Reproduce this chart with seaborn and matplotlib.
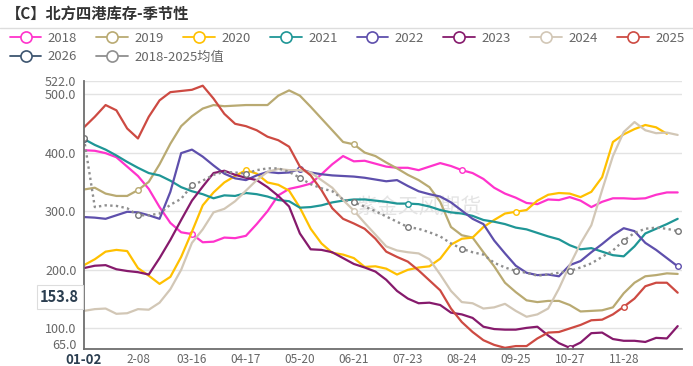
import numpy as np
import pandas as pd
import matplotlib
matplotlib.use("Agg")
import matplotlib.pyplot as plt
from matplotlib.lines import Line2D
import seaborn as sns

nan = np.nan

# x ticks (one label every 5 weekly points)
tick_labels = ["01-02", "2-08", "03-16", "04-17", "05-20", "06-21",
               "07-23", "08-24", "09-25", "10-27", "11-28"]

y2018 = [404, 403, 399, 392, 376, 360, 338, 307, 280, 264, 261, 247, 248, 255, 254, 258, 278, 300, 327,
         338, 342, 347, 363, 380, 394, 385, 386, 381, 376, 374, 374, 370, 376, 382, 377, 370, 365, 355,
         340, 330, 323, 314, 312, 320, 319, 324, 318, 307, 316, 322, 322, 321, 322, 328, 332, 332]
y2019 = [337, 340, 330, 326, 326, 336, 350, 380, 415, 445, 462, 475, 481, 479, 480, 481, 481, 481, 497,
         506, 497, 478, 458, 438, 418, 414, 400, 394, 383, 373, 362, 353, 341, 316, 273, 259, 255, 230,
         206, 178, 162, 148, 145, 147, 147, 140, 129, 130, 131, 136, 160, 178, 189, 191, 194, 193]
y2020 = [208, 218, 231, 234, 232, 203, 190, 176, 188, 222, 265, 310, 332, 349, 360, 370, 364, 349, 345,
         335, 306, 270, 245, 229, 226, 220, 205, 206, 202, 192, 200, 204, 206, 219, 243, 253, 255, 273,
         285, 296, 299, 302, 318, 328, 331, 330, 324, 333, 358, 418, 431, 440, 447, 443, 432, nan]
y2021 = [423, 413, 405, 395, 384, 374, 365, 361, 352, 341, 334, 329, 322, 327, 326, 331, 329, 325, 319,
         317, 306, 307, 310, 315, 318, 320, 320, 318, 316, 313, 313, 312, 308, 302, 298, 296, 292, 285,
         282, 278, 272, 269, 263, 257, 252, 242, 235, 237, 231, 225, 223, 240, 262, 270, 278, 287]
y2022 = [290, 289, 287, 293, 299, 298, 293, 287, 333, 399, 405, 393, 378, 364, 356, 353, 361, 367, 365,
         366, 372, 366, 363, 361, 360, 359, 357, 354, 351, 353, 343, 334, 329, 325, 315, 301, 287, 278,
         250, 228, 207, 195, 191, 192, 189, 208, 215, 230, 244, 259, 271, 266, 246, 234, 220, 206]
y2023 = [203, 207, 208, 201, 198, 196, 192, 220, 251, 285, 318, 342, 365, 369, 362, 357, 353, 341, 326,
         308, 262, 235, 234, 230, 220, 210, 204, 197, 183, 164, 151, 143, 144, 140, 127, 124, 118, 103,
         99, 98, 98, 101, 103, 88, 75, 67, 76, 92, 93, 82, 79, 79, 77, 84, 83, 104]
y2024 = [130, 133, 134, 125, 126, 133, 132, 144, 167, 200, 246, 269, 298, 304, 317, 335, 353, 367, 372,
         370, 370, 366, 353, 340, 319, 301, 280, 260, 240, 233, 230, 228, 218, 192, 164, 145, 143, 134,
         136, 142, 130, 120, 124, 134, 168, 208, 245, 276, 336, 394, 435, 452, 438, 433, 434, 430]
y2025 = [443, 461, 481, 472, 441, 424, 461, 489, 503, 505, 507, 514, 492, 466, 449, 445, 438, 427, 421,
         410, 376, 361, 336, 305, 287, 279, 270, 253, 231, 222, 214, 199, 182, 165, 134, 111, 94, 80,
         72, 67, 70, 70, 83, 93, 94, 100, 106, 114, 115, 124, 137, 151, 172, 178, 178, 161]
y2026 = [423]
y_avg = [424, 307, 310, 309, 305, 293, 293, 296, 311, 321, 344, 352, 362, 367, 366, 364, 370, 373, 373,
         367, 357, 346, 339, 334, 320, 315, 308, 300, 291, 282, 273, 270, 264, 257, 245, 236, 230, 226,
         212, 204, 198, 195, 190, 192, 195, 198, 204, 211, 222, 233, 250, 263, 270, 272, 270, 266]

# name, values, colour, points that show a symbol
series = [
    ("2018", y2018, "#ff33cc", [10, 35]),
    ("2019", y2019, "#b9aa72", [5, 25]),
    ("2020", y2020, "#ffc000", [15, 40]),
    ("2021", y2021, "#1f9696", [30]),
    ("2022", y2022, "#5e4fac", [20, 55]),
    ("2023", y2023, "#861a6c", [45]),
    ("2024", y2024, "#d2c7b6", [25]),
    ("2025", y2025, "#cd4a42", [50]),
    ("2026", y2026, "#3d5570", [0]),
]
avg_label = "2018-2025均值"
avg_color = "#8f8f8f"

sns.set_style("white")
plt.rcParams["font.family"] = ["Noto Sans CJK SC", "DejaVu Sans"]

fig = plt.figure(figsize=(6.93, 3.66), dpi=100)
ax = fig.add_axes([84 / 693, 1 - 349 / 366, (682 - 84) / 693, (349 - 81) / 366])

for name, vals, col, marks in series:
    df = pd.DataFrame({"x": np.arange(len(vals)), "y": vals}).dropna()
    sns.lineplot(data=df, x="x", y="y", ax=ax, color=col, linewidth=1.6,
                 estimator=None, sort=False, marker="o", markevery=marks, markersize=4,
                 markerfacecolor="white", markeredgecolor=col, markeredgewidth=1)

df = pd.DataFrame({"x": np.arange(len(y_avg)), "y": y_avg})
sns.lineplot(data=df, x="x", y="y", ax=ax, color=avg_color, linewidth=1.7,
             linestyle=(0, (1, 1.4)), estimator=None, sort=False, marker="o", markevery=5,
             markersize=4, markerfacecolor="white", markeredgecolor="#777777", markeredgewidth=1)

ax.set_xlim(0, 55.4)
ax.set_ylim(65, 522)
ax.set_xticks(np.arange(0, 55, 5))
ax.set_xticklabels(tick_labels)
yt = [65, 100, 200, 300, 400, 500, 522]
ax.set_yticks(yt)
ax.set_yticklabels([f"{v:.1f}" for v in yt])
ax.set_xlabel("")
ax.set_ylabel("")
ax.yaxis.grid(True, color="#e3e3e3", linewidth=1)
ax.xaxis.grid(False)
for s in ["top", "right"]:
    ax.spines[s].set_visible(False)
for s in ["left", "bottom"]:
    ax.spines[s].set_color("#6e6e6e")
    ax.spines[s].set_linewidth(1.3)
ax.tick_params(axis="y", direction="out", length=3.5, width=1, color="#6e6e6e",
               labelsize=9, labelcolor="#666666", pad=2)
ax.tick_params(axis="x", direction="out", length=3, width=1, color="#6e6e6e",
               labelsize=8.5, labelcolor="#666666", pad=0)
lbl0 = ax.get_xticklabels()[0]
lbl0.set_fontweight("bold")
lbl0.set_color("#2b3e50")
lbl0.set_fontsize(9.5)
# bottom y label sits just above the axis line
ax.get_yticklabels()[0].set_verticalalignment("baseline")

# axis pointer label
ax.text(-0.008, 153.8, "153.8", transform=ax.get_yaxis_transform(), ha="right", va="center",
        fontsize=10.5, fontweight="bold", color="#2b3e50",
        bbox=dict(boxstyle="square,pad=0.25", fc="white", ec="#dddddd", lw=0.8))

# watermark
ax.text(0.56, 0.53, "紫金天风期货", transform=ax.transAxes, ha="center", va="center",
        fontsize=15, color="#d9d9d9", alpha=0.7, zorder=0)

# title and separator
fig.text(0.008, 0.962, "【C】北方四港库存-季节性", fontsize=11, fontweight="bold",
         color="#333333", va="center", ha="left")
fig.add_artist(Line2D([0, 1], [1 - 28 / 366, 1 - 28 / 366], transform=fig.transFigure,
                      color="#dddddd", linewidth=1))

def handle(col):
    return Line2D([], [], color=col, linewidth=1.3, marker="o", markersize=8,
                  markerfacecolor="white", markeredgecolor=col, markeredgewidth=1.2)

row1 = series[:8]
leg1 = fig.legend([handle(s[2]) for s in row1], [s[0] for s in row1],
                  loc="center left", bbox_to_anchor=(0.014, 1 - 38 / 366), ncol=8,
                  frameon=False, fontsize=9.5, handlelength=2.4, handletextpad=0.5,
                  columnspacing=1.45, labelcolor="#666666", borderaxespad=0, borderpad=0)
row2 = [("2026", series[8][2]), (avg_label, avg_color)]
leg2 = fig.legend([handle(c) for _, c in row2], [n for n, _ in row2],
                  loc="center left", bbox_to_anchor=(0.014, 1 - 57 / 366), ncol=2,
                  frameon=False, fontsize=9.5, handlelength=2.4, handletextpad=0.5,
                  columnspacing=1.45, labelcolor="#666666", borderaxespad=0, borderpad=0)

fig.savefig("out.png", dpi=100)
